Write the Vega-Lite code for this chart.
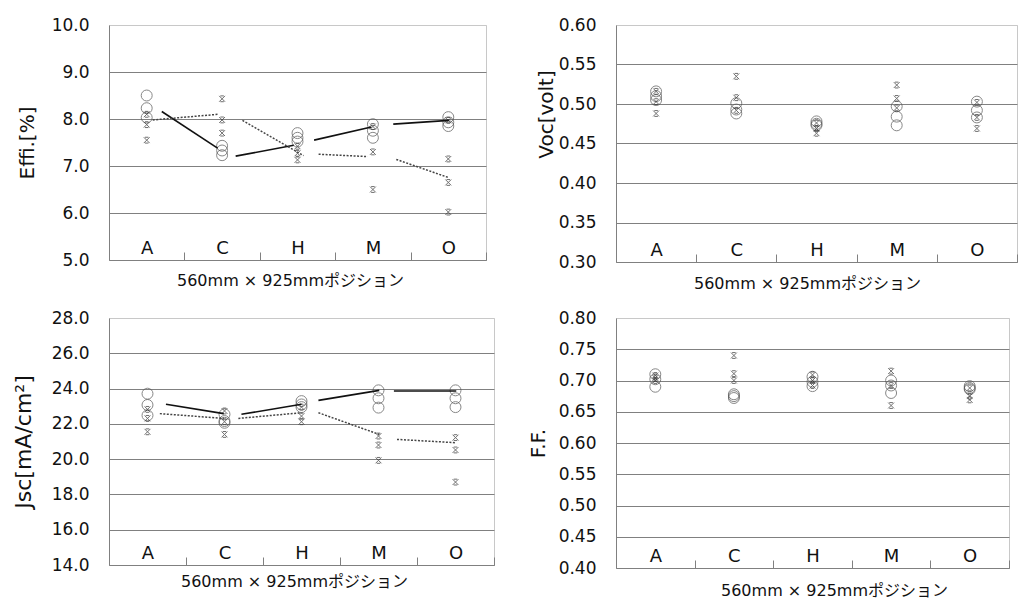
{
  "$schema": "https://vega.github.io/schema/vega-lite/v6.json",
  "background": "white",
  "padding": {"left": 11, "top": 15, "right": 11, "bottom": 6},
  "config": {
    "font": "DejaVu Sans, Noto Sans CJK JP",
    "view": {"stroke": "#c8c8c8", "strokeWidth": 1},
    "axis": {
      "labelFont": "DejaVu Sans",
      "labelFontSize": 17,
      "labelColor": "#111111",
      "titleFont": "DejaVu Sans, Noto Sans CJK JP",
      "titleFontWeight": "normal",
      "titleColor": "#111111",
      "domainColor": "#808080",
      "tickColor": "#808080",
      "gridColor": "#808080",
      "labelOverlap": false,
      "tickCount": 20
    },
    "axisX": {
      "tickSize": -8,
      "labelFontSize": 18,
      "grid": false,
      "labelBaseline": "alphabetic",
      "labelFlush": false,
      "labelBound": false,
      "labelPadding": 1,
      "labelAngle": 0,
      "titleFontSize": 16,
      "minExtent": 0,
      "maxExtent": 0
    },
    "axisY": {
      "ticks": false,
      "labelPadding": 20,
      "titleFontSize": 20,
      "titlePadding": 0,
      "grid": true
    }
  },
  "datasets": {
    "cats": [
      {"pos": "A", "idx": 1}, {"pos": "C", "idx": 2}, {"pos": "H", "idx": 3}, {"pos": "M", "idx": 4}, {"pos": "O", "idx": 5}
    ],
    "pts": [
      {"panel": "Effi", "pos": "A", "series": "o", "value": 8.50},
      {"panel": "Effi", "pos": "A", "series": "o", "value": 8.23},
      {"panel": "Effi", "pos": "A", "series": "o", "value": 8.03},
      {"panel": "Effi", "pos": "C", "series": "o", "value": 7.43},
      {"panel": "Effi", "pos": "C", "series": "o", "value": 7.33},
      {"panel": "Effi", "pos": "C", "series": "o", "value": 7.23},
      {"panel": "Effi", "pos": "H", "series": "o", "value": 7.70},
      {"panel": "Effi", "pos": "H", "series": "o", "value": 7.60},
      {"panel": "Effi", "pos": "H", "series": "o", "value": 7.52},
      {"panel": "Effi", "pos": "M", "series": "o", "value": 7.89},
      {"panel": "Effi", "pos": "M", "series": "o", "value": 7.75},
      {"panel": "Effi", "pos": "M", "series": "o", "value": 7.60},
      {"panel": "Effi", "pos": "O", "series": "o", "value": 8.04},
      {"panel": "Effi", "pos": "O", "series": "o", "value": 7.93},
      {"panel": "Effi", "pos": "O", "series": "o", "value": 7.85},
      {"panel": "Effi", "pos": "A", "series": "x", "value": 8.10},
      {"panel": "Effi", "pos": "A", "series": "x", "value": 7.88},
      {"panel": "Effi", "pos": "A", "series": "x", "value": 7.55},
      {"panel": "Effi", "pos": "C", "series": "x", "value": 8.43},
      {"panel": "Effi", "pos": "C", "series": "x", "value": 7.98},
      {"panel": "Effi", "pos": "C", "series": "x", "value": 7.70},
      {"panel": "Effi", "pos": "H", "series": "x", "value": 7.42},
      {"panel": "Effi", "pos": "H", "series": "x", "value": 7.27},
      {"panel": "Effi", "pos": "H", "series": "x", "value": 7.13},
      {"panel": "Effi", "pos": "M", "series": "x", "value": 7.84},
      {"panel": "Effi", "pos": "M", "series": "x", "value": 7.30},
      {"panel": "Effi", "pos": "M", "series": "x", "value": 6.50},
      {"panel": "Effi", "pos": "O", "series": "x", "value": 7.97},
      {"panel": "Effi", "pos": "O", "series": "x", "value": 7.15},
      {"panel": "Effi", "pos": "O", "series": "x", "value": 6.65},
      {"panel": "Effi", "pos": "O", "series": "x", "value": 6.02},

      {"panel": "Voc", "pos": "A", "series": "o", "value": 0.516},
      {"panel": "Voc", "pos": "A", "series": "o", "value": 0.510},
      {"panel": "Voc", "pos": "A", "series": "o", "value": 0.505},
      {"panel": "Voc", "pos": "C", "series": "o", "value": 0.501},
      {"panel": "Voc", "pos": "C", "series": "o", "value": 0.493},
      {"panel": "Voc", "pos": "C", "series": "o", "value": 0.488},
      {"panel": "Voc", "pos": "H", "series": "o", "value": 0.478},
      {"panel": "Voc", "pos": "H", "series": "o", "value": 0.475},
      {"panel": "Voc", "pos": "H", "series": "o", "value": 0.473},
      {"panel": "Voc", "pos": "M", "series": "o", "value": 0.497},
      {"panel": "Voc", "pos": "M", "series": "o", "value": 0.484},
      {"panel": "Voc", "pos": "M", "series": "o", "value": 0.473},
      {"panel": "Voc", "pos": "O", "series": "o", "value": 0.503},
      {"panel": "Voc", "pos": "O", "series": "o", "value": 0.492},
      {"panel": "Voc", "pos": "O", "series": "o", "value": 0.483},
      {"panel": "Voc", "pos": "A", "series": "x", "value": 0.516},
      {"panel": "Voc", "pos": "A", "series": "x", "value": 0.503},
      {"panel": "Voc", "pos": "A", "series": "x", "value": 0.488},
      {"panel": "Voc", "pos": "C", "series": "x", "value": 0.535},
      {"panel": "Voc", "pos": "C", "series": "x", "value": 0.508},
      {"panel": "Voc", "pos": "C", "series": "x", "value": 0.492},
      {"panel": "Voc", "pos": "H", "series": "x", "value": 0.476},
      {"panel": "Voc", "pos": "H", "series": "x", "value": 0.469},
      {"panel": "Voc", "pos": "H", "series": "x", "value": 0.463},
      {"panel": "Voc", "pos": "M", "series": "x", "value": 0.524},
      {"panel": "Voc", "pos": "M", "series": "x", "value": 0.507},
      {"panel": "Voc", "pos": "M", "series": "x", "value": 0.495},
      {"panel": "Voc", "pos": "O", "series": "x", "value": 0.502},
      {"panel": "Voc", "pos": "O", "series": "x", "value": 0.483},
      {"panel": "Voc", "pos": "O", "series": "x", "value": 0.469},

      {"panel": "Jsc", "pos": "A", "series": "o", "value": 23.71},
      {"panel": "Jsc", "pos": "A", "series": "o", "value": 23.07},
      {"panel": "Jsc", "pos": "A", "series": "o", "value": 22.48},
      {"panel": "Jsc", "pos": "C", "series": "o", "value": 22.54},
      {"panel": "Jsc", "pos": "C", "series": "o", "value": 22.16},
      {"panel": "Jsc", "pos": "C", "series": "o", "value": 22.06},
      {"panel": "Jsc", "pos": "H", "series": "o", "value": 23.29},
      {"panel": "Jsc", "pos": "H", "series": "o", "value": 23.10},
      {"panel": "Jsc", "pos": "H", "series": "o", "value": 22.95},
      {"panel": "Jsc", "pos": "M", "series": "o", "value": 23.90},
      {"panel": "Jsc", "pos": "M", "series": "o", "value": 23.45},
      {"panel": "Jsc", "pos": "M", "series": "o", "value": 22.92},
      {"panel": "Jsc", "pos": "O", "series": "o", "value": 23.90},
      {"panel": "Jsc", "pos": "O", "series": "o", "value": 23.45},
      {"panel": "Jsc", "pos": "O", "series": "o", "value": 22.95},
      {"panel": "Jsc", "pos": "A", "series": "x", "value": 22.82},
      {"panel": "Jsc", "pos": "A", "series": "x", "value": 22.31},
      {"panel": "Jsc", "pos": "A", "series": "x", "value": 21.55},
      {"panel": "Jsc", "pos": "C", "series": "x", "value": 22.73},
      {"panel": "Jsc", "pos": "C", "series": "x", "value": 22.12},
      {"panel": "Jsc", "pos": "C", "series": "x", "value": 21.40},
      {"panel": "Jsc", "pos": "H", "series": "x", "value": 22.95},
      {"panel": "Jsc", "pos": "H", "series": "x", "value": 22.44},
      {"panel": "Jsc", "pos": "H", "series": "x", "value": 22.12},
      {"panel": "Jsc", "pos": "M", "series": "x", "value": 21.31},
      {"panel": "Jsc", "pos": "M", "series": "x", "value": 20.80},
      {"panel": "Jsc", "pos": "M", "series": "x", "value": 19.93},
      {"panel": "Jsc", "pos": "O", "series": "x", "value": 21.22},
      {"panel": "Jsc", "pos": "O", "series": "x", "value": 20.52},
      {"panel": "Jsc", "pos": "O", "series": "x", "value": 18.70},

      {"panel": "FF", "pos": "A", "series": "o", "value": 0.710},
      {"panel": "FF", "pos": "A", "series": "o", "value": 0.702},
      {"panel": "FF", "pos": "A", "series": "o", "value": 0.690},
      {"panel": "FF", "pos": "C", "series": "o", "value": 0.678},
      {"panel": "FF", "pos": "C", "series": "o", "value": 0.675},
      {"panel": "FF", "pos": "C", "series": "o", "value": 0.672},
      {"panel": "FF", "pos": "H", "series": "o", "value": 0.706},
      {"panel": "FF", "pos": "H", "series": "o", "value": 0.698},
      {"panel": "FF", "pos": "H", "series": "o", "value": 0.691},
      {"panel": "FF", "pos": "M", "series": "o", "value": 0.700},
      {"panel": "FF", "pos": "M", "series": "o", "value": 0.692},
      {"panel": "FF", "pos": "M", "series": "o", "value": 0.680},
      {"panel": "FF", "pos": "O", "series": "o", "value": 0.691},
      {"panel": "FF", "pos": "O", "series": "o", "value": 0.688},
      {"panel": "FF", "pos": "O", "series": "o", "value": 0.686},
      {"panel": "FF", "pos": "A", "series": "x", "value": 0.708},
      {"panel": "FF", "pos": "A", "series": "x", "value": 0.704},
      {"panel": "FF", "pos": "A", "series": "x", "value": 0.700},
      {"panel": "FF", "pos": "C", "series": "x", "value": 0.740},
      {"panel": "FF", "pos": "C", "series": "x", "value": 0.711},
      {"panel": "FF", "pos": "C", "series": "x", "value": 0.700},
      {"panel": "FF", "pos": "H", "series": "x", "value": 0.709},
      {"panel": "FF", "pos": "H", "series": "x", "value": 0.700},
      {"panel": "FF", "pos": "H", "series": "x", "value": 0.692},
      {"panel": "FF", "pos": "M", "series": "x", "value": 0.715},
      {"panel": "FF", "pos": "M", "series": "x", "value": 0.692},
      {"panel": "FF", "pos": "M", "series": "x", "value": 0.660},
      {"panel": "FF", "pos": "O", "series": "x", "value": 0.688},
      {"panel": "FF", "pos": "O", "series": "x", "value": 0.675},
      {"panel": "FF", "pos": "O", "series": "x", "value": 0.669}
    ],
    "segs": [
      {"panel": "Effi", "series": "solid", "from": 1.20, "fromValue": 8.16, "to": 1.94, "toValue": 7.38},
      {"panel": "Effi", "series": "solid", "from": 2.18, "fromValue": 7.21, "to": 2.95, "toValue": 7.44},
      {"panel": "Effi", "series": "solid", "from": 3.22, "fromValue": 7.55, "to": 3.98, "toValue": 7.83},
      {"panel": "Effi", "series": "solid", "from": 4.27, "fromValue": 7.89, "to": 5.01, "toValue": 7.97},
      {"panel": "Effi", "series": "dotted", "from": 1.08, "fromValue": 7.98, "to": 1.95, "toValue": 8.10},
      {"panel": "Effi", "series": "dotted", "from": 2.27, "fromValue": 7.97, "to": 3.08, "toValue": 7.22},
      {"panel": "Effi", "series": "dotted", "from": 3.28, "fromValue": 7.25, "to": 3.93, "toValue": 7.20},
      {"panel": "Effi", "series": "dotted", "from": 4.31, "fromValue": 7.14, "to": 5.01, "toValue": 6.75},
      {"panel": "Jsc", "series": "solid", "from": 1.24, "fromValue": 23.11, "to": 1.99, "toValue": 22.58},
      {"panel": "Jsc", "series": "solid", "from": 2.22, "fromValue": 22.54, "to": 3.00, "toValue": 23.11},
      {"panel": "Jsc", "series": "solid", "from": 3.22, "fromValue": 23.33, "to": 4.01, "toValue": 23.90},
      {"panel": "Jsc", "series": "solid", "from": 4.20, "fromValue": 23.86, "to": 5.01, "toValue": 23.86},
      {"panel": "Jsc", "series": "dotted", "from": 1.16, "fromValue": 22.58, "to": 1.99, "toValue": 22.31},
      {"panel": "Jsc", "series": "dotted", "from": 2.18, "fromValue": 22.31, "to": 3.00, "toValue": 22.63},
      {"panel": "Jsc", "series": "dotted", "from": 3.22, "fromValue": 22.63, "to": 4.01, "toValue": 21.40},
      {"panel": "Jsc", "series": "dotted", "from": 4.24, "fromValue": 21.12, "to": 5.01, "toValue": 20.93}
    ]
  },
  "columns": 2,
  "align": "none",
  "bounds": "flush",
  "spacing": {"row": 56, "column": 122},
  "concat": [
    {
      "width": 377,
      "height": 235,
      "layer": [
        {
          "data": {"name": "pts"},
          "transform": [
            {"filter": "datum.panel === 'Effi' && datum.series === 'o'"},
            {"lookup": "pos", "from": {"data": {"name": "cats"}, "key": "pos", "fields": ["idx"]}}
          ],
          "mark": {"type": "point", "shape": "circle", "filled": false, "size": 120, "stroke": "#555555", "strokeWidth": 1},
          "encoding": {
            "x": {"field": "idx", "type": "quantitative", "scale": {"domain": [0.5, 5.5], "nice": false},
              "axis": {"values": [1.5, 2.5, 3.5, 4.5, 5.5], "labelExpr": "datum.value < 2 ? 'A' : datum.value < 3 ? 'C' : datum.value < 4 ? 'H' : datum.value < 5 ? 'M' : 'O'", "labelOffset": -37.7, "title": "560mm × 925mmポジション", "titlePadding": 12, "titleX": 181}},
            "y": {"field": "value", "type": "quantitative", "scale": {"domain": [5, 10], "nice": false, "zero": false},
              "axis": {"values": [5, 6, 7, 8, 9, 10], "format": ".1f", "title": "Effi.[%]", "minExtent": 72, "maxExtent": 72,
                "gridColor": {"condition": {"test": "datum.value >= 9.99", "value": "#c8c8c8"}, "value": "#808080"}}}
          }
        },
        {
          "data": {"name": "pts"},
          "transform": [
            {"filter": "datum.panel === 'Effi' && datum.series === 'x'"},
            {"lookup": "pos", "from": {"data": {"name": "cats"}, "key": "pos", "fields": ["idx"]}}
          ],
          "mark": {"type": "point", "shape": "M-1,-1L1,1M1,-1L-1,1M-0.6,-1H0.6M-0.6,1H0.6", "filled": false, "size": 34, "stroke": "#333333", "strokeWidth": 1},
          "encoding": {
            "x": {"field": "idx", "type": "quantitative"},
            "y": {"field": "value", "type": "quantitative"}
          }
        },
        {
          "data": {"name": "segs"},
          "transform": [{"filter": "datum.panel === 'Effi' && datum.series === 'solid'"}],
          "mark": {"type": "rule", "stroke": "#111111", "strokeWidth": 1.6},
          "encoding": {
            "x": {"field": "from", "type": "quantitative"},
            "x2": {"field": "to"},
            "y": {"field": "fromValue", "type": "quantitative"},
            "y2": {"field": "toValue"}
          }
        },
        {
          "data": {"name": "segs"},
          "transform": [{"filter": "datum.panel === 'Effi' && datum.series === 'dotted'"}],
          "mark": {"type": "rule", "stroke": "#444444", "strokeWidth": 1.5, "strokeDash": [2, 1.5]},
          "encoding": {
            "x": {"field": "from", "type": "quantitative"},
            "x2": {"field": "to"},
            "y": {"field": "fromValue", "type": "quantitative"},
            "y2": {"field": "toValue"}
          }
        }
      ]
    },
    {
      "width": 401,
      "height": 237,
      "layer": [
        {
          "data": {"name": "pts"},
          "transform": [
            {"filter": "datum.panel === 'Voc' && datum.series === 'o'"},
            {"lookup": "pos", "from": {"data": {"name": "cats"}, "key": "pos", "fields": ["idx"]}}
          ],
          "mark": {"type": "point", "shape": "circle", "filled": false, "size": 120, "stroke": "#555555", "strokeWidth": 1},
          "encoding": {
            "x": {"field": "idx", "type": "quantitative", "scale": {"domain": [0.5, 5.5], "nice": false},
              "axis": {"values": [1.5, 2.5, 3.5, 4.5, 5.5], "labelExpr": "datum.value < 2 ? 'A' : datum.value < 3 ? 'C' : datum.value < 4 ? 'H' : datum.value < 5 ? 'M' : 'O'", "labelOffset": -40.1, "title": "560mm × 925mmポジション", "titlePadding": 13, "titleX": 191}},
            "y": {"field": "value", "type": "quantitative", "scale": {"domain": [0.3, 0.6], "nice": false, "zero": false},
              "axis": {"values": [0.3, 0.35, 0.4, 0.45, 0.5, 0.55, 0.6], "format": ".2f", "title": "Voc[volt]", "minExtent": 60, "maxExtent": 60, "titleY": 89,
                "gridColor": {"condition": {"test": "datum.value >= 0.599", "value": "#c8c8c8"}, "value": "#808080"}}}
          }
        },
        {
          "data": {"name": "pts"},
          "transform": [
            {"filter": "datum.panel === 'Voc' && datum.series === 'x'"},
            {"lookup": "pos", "from": {"data": {"name": "cats"}, "key": "pos", "fields": ["idx"]}}
          ],
          "mark": {"type": "point", "shape": "M-1,-1L1,1M1,-1L-1,1M-0.6,-1H0.6M-0.6,1H0.6", "filled": false, "size": 34, "stroke": "#333333", "strokeWidth": 1},
          "encoding": {
            "x": {"field": "idx", "type": "quantitative"},
            "y": {"field": "value", "type": "quantitative"}
          }
        }
      ]
    },
    {
      "width": 385,
      "height": 247,
      "layer": [
        {
          "data": {"name": "pts"},
          "transform": [
            {"filter": "datum.panel === 'Jsc' && datum.series === 'o'"},
            {"lookup": "pos", "from": {"data": {"name": "cats"}, "key": "pos", "fields": ["idx"]}}
          ],
          "mark": {"type": "point", "shape": "circle", "filled": false, "size": 120, "stroke": "#555555", "strokeWidth": 1},
          "encoding": {
            "x": {"field": "idx", "type": "quantitative", "scale": {"domain": [0.5, 5.5], "nice": false},
              "axis": {"values": [1.5, 2.5, 3.5, 4.5, 5.5], "labelExpr": "datum.value < 2 ? 'A' : datum.value < 3 ? 'C' : datum.value < 4 ? 'H' : datum.value < 5 ? 'M' : 'O'", "labelOffset": -38.5, "title": "560mm × 925mmポジション", "titlePadding": 8, "titleX": 185}},
            "y": {"field": "value", "type": "quantitative", "scale": {"domain": [14, 28], "nice": false, "zero": false},
              "axis": {"values": [14, 16, 18, 20, 22, 24, 26, 28], "format": ".1f", "title": "Jsc[mA/cm²]", "titleFontSize": 22, "minExtent": 74, "maxExtent": 74,
                "gridColor": {"condition": {"test": "datum.value >= 27.99", "value": "#c8c8c8"}, "value": "#808080"}}}
          }
        },
        {
          "data": {"name": "pts"},
          "transform": [
            {"filter": "datum.panel === 'Jsc' && datum.series === 'x'"},
            {"lookup": "pos", "from": {"data": {"name": "cats"}, "key": "pos", "fields": ["idx"]}}
          ],
          "mark": {"type": "point", "shape": "M-1,-1L1,1M1,-1L-1,1M-0.6,-1H0.6M-0.6,1H0.6", "filled": false, "size": 34, "stroke": "#333333", "strokeWidth": 1},
          "encoding": {
            "x": {"field": "idx", "type": "quantitative"},
            "y": {"field": "value", "type": "quantitative"}
          }
        },
        {
          "data": {"name": "segs"},
          "transform": [{"filter": "datum.panel === 'Jsc' && datum.series === 'solid'"}],
          "mark": {"type": "rule", "stroke": "#111111", "strokeWidth": 1.6},
          "encoding": {
            "x": {"field": "from", "type": "quantitative"},
            "x2": {"field": "to"},
            "y": {"field": "fromValue", "type": "quantitative"},
            "y2": {"field": "toValue"}
          }
        },
        {
          "data": {"name": "segs"},
          "transform": [{"filter": "datum.panel === 'Jsc' && datum.series === 'dotted'"}],
          "mark": {"type": "rule", "stroke": "#444444", "strokeWidth": 1.5, "strokeDash": [2, 1.5]},
          "encoding": {
            "x": {"field": "from", "type": "quantitative"},
            "x2": {"field": "to"},
            "y": {"field": "fromValue", "type": "quantitative"},
            "y2": {"field": "toValue"}
          }
        }
      ]
    },
    {
      "width": 393,
      "height": 250,
      "layer": [
        {
          "data": {"name": "pts"},
          "transform": [
            {"filter": "datum.panel === 'FF' && datum.series === 'o'"},
            {"lookup": "pos", "from": {"data": {"name": "cats"}, "key": "pos", "fields": ["idx"]}}
          ],
          "mark": {"type": "point", "shape": "circle", "filled": false, "size": 120, "stroke": "#555555", "strokeWidth": 1},
          "encoding": {
            "x": {"field": "idx", "type": "quantitative", "scale": {"domain": [0.5, 5.5], "nice": false},
              "axis": {"values": [1.5, 2.5, 3.5, 4.5, 5.5], "labelExpr": "datum.value < 2 ? 'A' : datum.value < 3 ? 'C' : datum.value < 4 ? 'H' : datum.value < 5 ? 'M' : 'O'", "labelOffset": -39.3, "title": "560mm × 925mmポジション", "titlePadding": 14, "titleX": 218}},
            "y": {"field": "value", "type": "quantitative", "scale": {"domain": [0.4, 0.8], "nice": false, "zero": false},
              "axis": {"values": [0.4, 0.45, 0.5, 0.55, 0.6, 0.65, 0.7, 0.75, 0.8], "format": ".2f", "title": "F.F.", "minExtent": 68, "maxExtent": 68,
                "gridColor": {"condition": {"test": "datum.value >= 0.799", "value": "#c8c8c8"}, "value": "#808080"}}}
          }
        },
        {
          "data": {"name": "pts"},
          "transform": [
            {"filter": "datum.panel === 'FF' && datum.series === 'x'"},
            {"lookup": "pos", "from": {"data": {"name": "cats"}, "key": "pos", "fields": ["idx"]}}
          ],
          "mark": {"type": "point", "shape": "M-1,-1L1,1M1,-1L-1,1M-0.6,-1H0.6M-0.6,1H0.6", "filled": false, "size": 34, "stroke": "#333333", "strokeWidth": 1},
          "encoding": {
            "x": {"field": "idx", "type": "quantitative"},
            "y": {"field": "value", "type": "quantitative"}
          }
        }
      ]
    }
  ]
}
